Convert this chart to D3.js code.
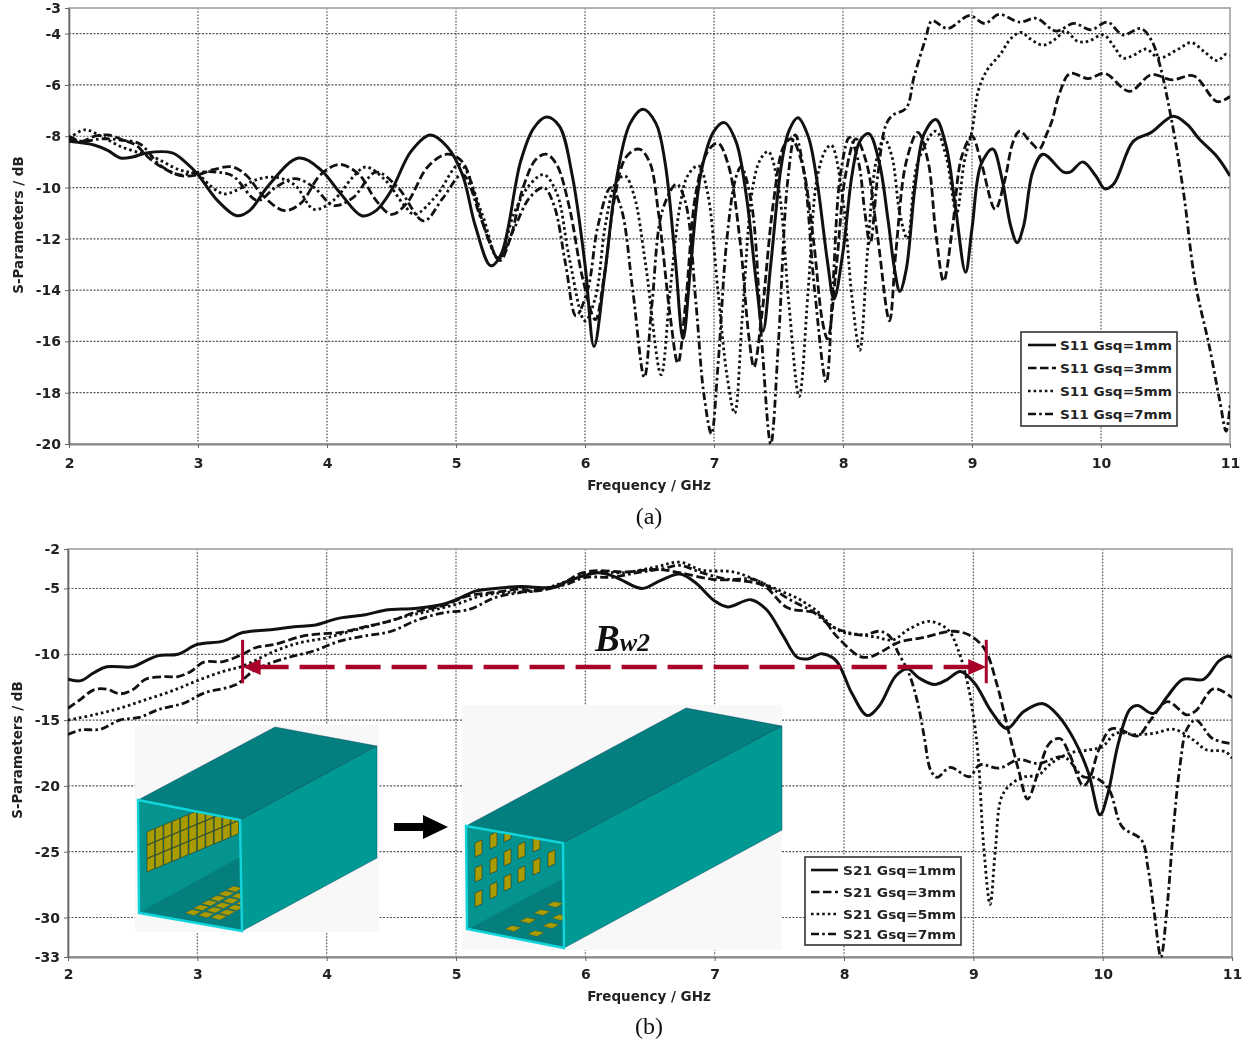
<!DOCTYPE html>
<html><head><meta charset="utf-8">
<script src="https://cdn.jsdelivr.net/npm/d3@7/dist/d3.min.js"></script>
<style>html,body{margin:0;padding:0;background:#fff}svg{display:block;filter:blur(0.35px)}
text{font-family:"DejaVu Sans",sans-serif;font-weight:bold;fill:#222}</style></head><body>
<div id="c"></div>
<script>
// --- values: [GHz, dB] ---
const s11_1mm=[[2,-8.2],[2.2,-8.35],[2.3,-8.55],[2.4,-8.85],[2.5,-8.8],[2.6,-8.65],[2.8,-8.65],[2.9,-9],[3,-9.5],[3.15,-10.5],[3.3,-11.1],[3.4,-10.9],[3.55,-9.9],[3.78,-8.85],[3.95,-9.3],[4.1,-10.2],[4.27,-11.1],[4.38,-10.9],[4.5,-10.1],[4.65,-8.6],[4.8,-7.95],[4.93,-8.4],[5.05,-9.5],[5.15,-11.5],[5.27,-13.05],[5.35,-12.6],[5.5,-9],[5.6,-7.7],[5.7,-7.25],[5.8,-7.6],[5.9,-9.5],[6,-13],[6.07,-16.2],[6.15,-13.5],[6.25,-9.5],[6.35,-7.5],[6.45,-6.95],[6.55,-7.5],[6.62,-9],[6.7,-12.8],[6.76,-15.9],[6.82,-13],[6.9,-9.4],[7,-7.8],[7.08,-7.47],[7.17,-8.2],[7.25,-10.3],[7.33,-13.8],[7.38,-15.6],[7.44,-13],[7.52,-9.2],[7.58,-7.8],[7.65,-7.28],[7.73,-8],[7.8,-9.8],[7.88,-12.9],[7.93,-14.35],[8,-12.5],[8.07,-9.5],[8.13,-8.2],[8.2,-7.9],[8.28,-9],[8.35,-11.3],[8.4,-13.2],[8.44,-14.05],[8.49,-13.2],[8.56,-9.9],[8.63,-7.9],[8.72,-7.35],[8.8,-8.4],[8.87,-10.7],[8.95,-13.3],[9,-11.6],[9.07,-9.1],[9.16,-8.5],[9.23,-9.6],[9.3,-11.5],[9.35,-12.15],[9.4,-11.5],[9.47,-9.4],[9.55,-8.7],[9.71,-9.4],[9.76,-9.4],[9.86,-9],[9.96,-9.55],[10.03,-10.05],[10.1,-9.85],[10.25,-8.2],[10.39,-7.85],[10.56,-7.22],[10.67,-7.55],[10.76,-8.1],[10.9,-8.8],[11,-9.55]];
const s11_3mm=[[2,-8.1],[2.1,-8.2],[2.2,-8],[2.3,-7.95],[2.42,-8.15],[2.52,-8.35],[2.62,-8.85],[2.75,-9.3],[2.88,-9.55],[3,-9.5],[3.12,-9.3],[3.27,-9.2],[3.38,-9.55],[3.5,-10.3],[3.67,-10.9],[3.8,-10.6],[3.95,-9.5],[4.1,-9.1],[4.25,-9.5],[4.38,-10.5],[4.5,-11.05],[4.62,-10.6],[4.78,-9.2],[4.93,-8.7],[5.05,-9],[5.15,-10.4],[5.25,-12],[5.34,-12.85],[5.42,-12],[5.52,-10],[5.62,-8.9],[5.7,-8.7],[5.78,-9.1],[5.88,-10.8],[5.98,-13.5],[6.08,-15.15],[6.15,-13.4],[6.23,-10.4],[6.32,-8.8],[6.42,-8.5],[6.5,-9],[6.57,-11],[6.66,-15],[6.72,-16.85],[6.78,-14.5],[6.86,-10.2],[6.95,-8.6],[7.03,-8.27],[7.11,-9.1],[7.2,-12],[7.27,-15.8],[7.31,-17],[7.37,-15],[7.46,-10.6],[7.54,-8.4],[7.6,-8.1],[7.68,-9],[7.77,-12],[7.84,-15.2],[7.88,-15.9],[7.95,-13],[8.02,-9.5],[8.1,-8.1],[8.18,-9],[8.27,-12],[8.36,-15.2],[8.41,-12.5],[8.49,-9],[8.58,-7.85],[8.66,-9],[8.72,-11.8],[8.78,-13.65],[8.85,-11.5],[8.92,-8.8],[9,-8],[9.07,-9],[9.18,-10.85],[9.25,-9.8],[9.32,-8.2],[9.37,-7.8],[9.45,-8.2],[9.52,-8.5],[9.58,-7.9],[9.62,-7.4],[9.68,-6.3],[9.76,-5.55],[9.9,-5.75],[10.03,-5.55],[10.22,-6.25],[10.39,-5.6],[10.55,-5.8],[10.72,-5.65],[10.9,-6.65],[11,-6.45]];
const s11_5mm=[[2,-8.1],[2.12,-7.75],[2.25,-8],[2.4,-8.4],[2.55,-8.65],[2.65,-8.8],[2.85,-9.3],[3,-9.5],[3.1,-9.95],[3.2,-10.25],[3.3,-10.1],[3.45,-9.7],[3.6,-9.6],[3.75,-9.9],[3.9,-10.85],[4.05,-10.5],[4.2,-9.6],[4.3,-9.2],[4.45,-9.7],[4.6,-10.7],[4.68,-11.05],[4.85,-10.3],[5.03,-9.1],[5.2,-11],[5.33,-12.8],[5.45,-11],[5.57,-9.9],[5.68,-9.5],[5.78,-10.2],[5.88,-12.8],[6,-15.2],[6.08,-14.3],[6.16,-11.4],[6.24,-9.8],[6.31,-9.55],[6.38,-10.3],[6.47,-13],[6.59,-17.3],[6.66,-14],[6.74,-10.6],[6.8,-9.5],[6.88,-9.15],[6.95,-10.2],[7.03,-14],[7.1,-17.3],[7.16,-18.8],[7.22,-15],[7.3,-10],[7.36,-8.9],[7.42,-8.6],[7.5,-10],[7.58,-14.5],[7.66,-18.15],[7.73,-14],[7.8,-9.6],[7.87,-8.5],[7.91,-8.35],[8,-10.5],[8.07,-14.3],[8.13,-16.35],[8.19,-12.5],[8.26,-8.9],[8.32,-8.1],[8.38,-8.8],[8.44,-11],[8.5,-12],[8.58,-9],[8.72,-7.8],[8.8,-8.8],[8.88,-11],[8.94,-9],[9,-7.8],[9.05,-6.2],[9.12,-5.4],[9.22,-4.8],[9.3,-4.2],[9.38,-3.95],[9.45,-4.2],[9.55,-4.45],[9.65,-4.2],[9.72,-3.9],[9.82,-4.3],[9.9,-4.3],[10.02,-4.05],[10.1,-4.5],[10.17,-4.95],[10.25,-4.85],[10.35,-4.6],[10.45,-4.95],[10.6,-4.6],[10.7,-4.35],[10.8,-4.7],[10.9,-5.05],[10.97,-4.8],[11,-4.85]];
const s11_7mm=[[2,-8],[2.1,-8.2],[2.25,-8.1],[2.4,-8.15],[2.55,-8.3],[2.7,-9.1],[2.85,-9.5],[3,-9.4],[3.15,-9.4],[3.27,-9.55],[3.46,-10.5],[3.6,-10],[3.75,-9.65],[3.9,-10],[4.05,-10.7],[4.2,-10.4],[4.38,-9.4],[4.55,-10],[4.75,-11.3],[4.9,-10.4],[5.05,-9.5],[5.2,-11.3],[5.33,-12.75],[5.45,-11.6],[5.57,-10.4],[5.68,-10],[5.76,-10.7],[5.85,-13],[5.93,-15],[6.02,-14],[6.1,-11.5],[6.2,-10],[6.28,-10.8],[6.37,-14],[6.46,-17.4],[6.52,-14.5],[6.6,-10.9],[6.71,-9.87],[6.78,-10.6],[6.86,-14.5],[6.92,-18],[6.98,-19.6],[7.03,-17],[7.1,-12],[7.17,-9.6],[7.21,-9.2],[7.29,-10.6],[7.37,-16],[7.44,-20],[7.5,-16],[7.57,-9.8],[7.63,-7.95],[7.7,-9.5],[7.78,-14],[7.87,-17.6],[7.92,-14],[7.98,-9.5],[8.05,-8.05],[8.12,-9],[8.17,-11],[8.21,-12.2],[8.27,-9.5],[8.33,-7.6],[8.38,-7.2],[8.49,-6.9],[8.55,-5.7],[8.64,-4.2],[8.69,-3.5],[8.81,-3.8],[8.98,-3.3],[9.1,-3.6],[9.21,-3.25],[9.37,-3.55],[9.5,-3.4],[9.65,-3.9],[9.79,-3.6],[9.92,-3.85],[10.05,-3.55],[10.17,-4.05],[10.31,-3.8],[10.39,-4.25],[10.45,-5.1],[10.55,-7.45],[10.64,-10.2],[10.73,-13.7],[10.84,-16.2],[10.92,-18.3],[10.97,-19.5],[11,-18.5]];
const s21_1mm=[[2,-11.9],[2.1,-12],[2.2,-11.4],[2.3,-10.95],[2.5,-10.95],[2.6,-10.5],[2.7,-10.1],[2.85,-10],[3,-9.25],[3.2,-9],[3.35,-8.35],[3.6,-8.1],[3.75,-7.9],[3.9,-7.8],[4.1,-7.25],[4.3,-7],[4.45,-6.65],[4.7,-6.5],[4.9,-6.2],[5,-5.85],[5.15,-5.2],[5.3,-5],[5.5,-4.85],[5.6,-4.9],[5.75,-4.9],[5.85,-4.5],[6,-4],[6.1,-3.8],[6.2,-4],[6.27,-4.3],[6.44,-5],[6.58,-4.4],[6.73,-3.9],[6.85,-4.55],[7,-5.95],[7.1,-6.4],[7.28,-5.85],[7.4,-6.6],[7.53,-8.6],[7.64,-10.25],[7.72,-10.35],[7.83,-9.95],[7.94,-10.5],[8.06,-12.95],[8.18,-14.65],[8.27,-13.95],[8.4,-11.65],[8.49,-11.1],[8.58,-11.8],[8.7,-12.3],[8.8,-11.9],[8.9,-11.3],[9.01,-12.2],[9.14,-14.35],[9.26,-15.65],[9.39,-14.35],[9.54,-13.75],[9.66,-14.7],[9.78,-16.5],[9.89,-19],[9.98,-22.2],[10.04,-20.6],[10.12,-16.8],[10.21,-14.2],[10.27,-13.9],[10.39,-14.5],[10.5,-13.2],[10.62,-11.9],[10.78,-11.9],[10.9,-10.5],[10.97,-10.15],[11,-10.25]];
const s21_3mm=[[2,-14.1],[2.1,-13.4],[2.2,-12.7],[2.3,-12.65],[2.4,-13],[2.5,-12.7],[2.6,-11.9],[2.75,-11.7],[2.85,-11.7],[2.95,-11.3],[3.05,-10.6],[3.2,-10.55],[3.35,-10],[3.45,-9.5],[3.6,-9.25],[3.8,-8.65],[3.95,-8.45],[4.1,-8.35],[4.3,-7.9],[4.5,-7.45],[4.7,-6.75],[4.9,-6.3],[5.1,-5.55],[5.3,-5.3],[5.5,-5.05],[5.6,-5.2],[5.8,-4.8],[5.95,-3.9],[6.1,-3.65],[6.3,-3.75],[6.57,-3.55],[6.73,-3.8],[6.98,-4.3],[7.19,-4.4],[7.38,-4.8],[7.56,-6.45],[7.8,-6.95],[7.94,-8.6],[8.12,-10.15],[8.2,-10.2],[8.3,-9.75],[8.42,-9.1],[8.6,-8.75],[8.85,-8.25],[8.98,-8.6],[9.09,-9.65],[9.18,-12.2],[9.27,-15.75],[9.35,-18.8],[9.42,-21],[9.5,-19],[9.59,-16.75],[9.67,-16.4],[9.74,-17.5],[9.85,-20],[9.9,-19.4],[9.97,-17.25],[10.06,-15.7],[10.13,-15.7],[10.27,-16.2],[10.37,-15],[10.5,-13.6],[10.65,-14.6],[10.72,-14.3],[10.86,-12.6],[11,-13.3]];
const s21_5mm=[[2,-15],[2.2,-14.6],[2.4,-14.1],[2.6,-13.45],[2.8,-12.8],[3,-12],[3.2,-11.3],[3.35,-10.9],[3.6,-9.75],[3.8,-9.1],[4,-8.75],[4.2,-8.2],[4.4,-7.7],[4.6,-7.15],[4.8,-6.7],[5,-6.2],[5.2,-5.55],[5.4,-5.3],[5.6,-5.2],[5.8,-4.65],[5.95,-4.05],[6.1,-3.75],[6.3,-3.8],[6.55,-3.35],[6.73,-3],[6.9,-3.6],[7.15,-3.75],[7.35,-4.5],[7.5,-5.15],[7.65,-5.8],[7.8,-6.8],[7.9,-7.8],[8,-8.35],[8.12,-8.5],[8.25,-8.7],[8.38,-8.9],[8.5,-8.1],[8.66,-7.5],[8.8,-8.1],[8.88,-9.6],[8.96,-12.4],[9.03,-17],[9.08,-24.6],[9.13,-29],[9.17,-24.9],[9.22,-20.8],[9.3,-19.8],[9.4,-19.3],[9.5,-19.2],[9.6,-18.3],[9.75,-17.5],[9.9,-17.25],[10,-17],[10.1,-16],[10.25,-16.1],[10.4,-16],[10.55,-15.7],[10.7,-16.5],[10.8,-17.25],[10.95,-17.4],[11,-17.9]];
const s21_7mm=[[2,-16.1],[2.1,-15.75],[2.25,-15.7],[2.4,-15],[2.55,-14.8],[2.7,-14.2],[2.9,-13.7],[3.05,-12.95],[3.3,-12.3],[3.45,-11.15],[3.7,-10.25],[3.9,-9.75],[4.1,-9],[4.3,-8.6],[4.5,-8.25],[4.7,-7.4],[4.9,-6.85],[5.1,-6.6],[5.3,-5.7],[5.5,-5.3],[5.7,-5],[5.85,-4.7],[6,-4.15],[6.2,-4.15],[6.4,-3.8],[6.6,-3.5],[6.73,-3.25],[6.9,-3.8],[7.1,-4.3],[7.3,-4.3],[7.45,-5.05],[7.6,-5.95],[7.75,-6.7],[7.9,-7.85],[8,-8.25],[8.15,-8.55],[8.27,-8.25],[8.35,-8.6],[8.42,-9.9],[8.5,-11.4],[8.57,-13.7],[8.62,-16.25],[8.67,-18.8],[8.72,-19.35],[8.82,-18.6],[8.97,-19.3],[9.05,-18.4],[9.2,-18.65],[9.35,-18],[9.5,-18.3],[9.7,-17.8],[9.85,-19.3],[9.95,-19.4],[10.05,-20.3],[10.15,-23.1],[10.3,-24.1],[10.35,-26.2],[10.4,-29.7],[10.45,-33],[10.5,-29],[10.55,-22.9],[10.6,-18.3],[10.65,-15.7],[10.72,-15],[10.85,-16.4],[11,-16.8]];

const xTicks=[2,3,4,5,6,7,8,9,10,11];
const yTicksA=[-3,-4,-6,-8,-10,-12,-14,-16,-18,-20];
const yTicksB=[-2,-5,-10,-15,-20,-25,-30,-33];
const gsqLabels=["Gsq=1mm","Gsq=3mm","Gsq=5mm","Gsq=7mm"];
const dashes=[null,"8.5 3.5","2.6 3","8 3.2 2.6 3.2"];
const bwStart=3.35, bwEnd=9.1, bwLevel=-10.97, bwCapTop=-8.9, bwCapBottom=-12.2;

const svg=d3.select("#c").append("svg").attr("width",1245).attr("height",1042);
const defs=svg.append("defs");

function panel(id,series,yTicks,xr,yr,yDom,cfg){
  const x=d3.scaleLinear().domain([2,11]).range(xr);
  const y=d3.scaleLinear().domain(yDom).range(yr);
  const g=svg.append("g");
  defs.append("clipPath").attr("id",id).append("rect").attr("x",xr[0]).attr("y",yr[0]-1).attr("width",xr[1]-xr[0]).attr("height",yr[1]-yr[0]+2);
  g.append("g").selectAll("line").data(xTicks.slice(1,-1)).join("line")
    .attr("x1",x).attr("x2",x).attr("y1",yr[0]).attr("y2",yr[1]).attr("stroke","#555").attr("stroke-width",1.2).attr("stroke-dasharray","1.6 1.6");
  g.append("g").selectAll("line").data(yTicks.slice(1,-1)).join("line")
    .attr("y1",y).attr("y2",y).attr("x1",xr[0]).attr("x2",xr[1]).attr("stroke","#555").attr("stroke-width",1.2).attr("stroke-dasharray","2 1.5");
  g.append("rect").attr("x",xr[0]).attr("y",yr[0]).attr("width",xr[1]-xr[0]).attr("height",yr[1]-yr[0]).attr("fill","none").attr("stroke","#aaa").attr("stroke-width",1.8);
  const ax=g.append("g").attr("transform",`translate(0,${yr[1]})`).call(d3.axisBottom(x).tickValues(xTicks).tickSize(4).tickSizeOuter(0).tickPadding(cfg.xPad));
  const ay=g.append("g").attr("transform",`translate(${xr[0]},0)`).call(d3.axisLeft(y).tickValues(yTicks).tickFormat(d=>String(d)).tickSize(4).tickSizeOuter(0).tickPadding(4));
  ax.select(".domain").attr("stroke","#888").attr("stroke-width",2);
  ay.select(".domain").attr("stroke","#666").attr("stroke-width",1.6);
  [ax,ay].forEach(a=>{a.selectAll("line").attr("stroke","#666");
    a.selectAll("text").attr("font-size",14).attr("fill","#222").attr("font-family","DejaVu Sans").attr("font-weight","bold");});
  g.append("text").attr("x",cfg.xTitleX).attr("y",yr[1]+cfg.xTitleDy).attr("text-anchor","middle").attr("font-size",13.5).text("Frequency / GHz");
  g.append("text").attr("transform",`translate(${cfg.yTitleX},${cfg.yTitleY}) rotate(-90)`).attr("text-anchor","middle").attr("font-size",13.5).text("S-Parameters / dB");
  return {x,y,g,xr,yr,
    lines(){
      const line=d3.line().x(d=>x(d[0])).y(d=>y(d[1])).curve(d3.curveCatmullRom.alpha(0.5));
      g.append("g").attr("clip-path",`url(#${id})`).selectAll("path").data(series.slice().reverse()).join("path")
       .attr("d",d=>line(d.v)).attr("fill","none").attr("stroke","#111").attr("stroke-width",d=>d.w)
       .attr("stroke-dasharray",d=>d.dash).attr("stroke-linejoin","round");
    }};
}

function legend(box,prefix,rows,lineX,textX){
  const g=svg.append("g");
  g.append("rect").attr("x",box[0]).attr("y",box[1]).attr("width",box[2]).attr("height",box[3]).attr("fill","#fff").attr("stroke","#333").attr("stroke-width",1.6);
  gsqLabels.forEach((t,i)=>{
    g.append("line").attr("x1",lineX[0]).attr("x2",lineX[1]).attr("y1",rows[i]).attr("y2",rows[i]).attr("stroke","#111").attr("stroke-width",2.6).attr("stroke-dasharray",dashes[i]);
    g.append("text").attr("x",textX).attr("y",rows[i]+5).attr("font-size",13).attr("textLength",textX<900?113:112).attr("lengthAdjust","spacingAndGlyphs").text(prefix+" "+t);
  });
}

const mk=(a)=>a.map((v,i)=>({v,dash:dashes[i],w:i==0?3:2.8}));
const A=panel("clipA",mk([s11_1mm,s11_3mm,s11_5mm,s11_7mm]),yTicksA,[69,1230],[8,444],[-3,-20],{xPad:10,xTitleX:649,xTitleDy:46,yTitleX:23,yTitleY:225});
A.lines();
legend([1021,332,156,94],"S11",[345,368,391,414],[1028,1056],1060);

const B=panel("clipB",mk([s21_1mm,s21_3mm,s21_5mm,s21_7mm]),yTicksB,[68,1232],[549,957],[-2,-33],{xPad:8,xTitleX:649,xTitleDy:44,yTitleX:22,yTitleY:750});
B.lines();

// ---- illustration insets (structure drawings, not data) ----
function poly(g,pts,fill,stroke,sw){return g.append("polygon").attr("points",pts.map(p=>p.join(",")).join(" ")).attr("fill",fill).attr("stroke",stroke||"none").attr("stroke-width",sw||0);}
const TOP="#047f7f",SIDE="#009a94",FRONT="#05938f",FLOOR="#057f7e",CY="#12d5dc",GOLD="#a89c00";
function box(o){
  const g=svg.append("g");
  g.append("rect").attr("x",o.bg[0]).attr("y",o.bg[1]).attr("width",o.bg[2]).attr("height",o.bg[3]).attr("fill","#f8f8f8");
  poly(g,[o.a,o.t1,o.t2,o.b],TOP,"#035",0.4);
  poly(g,[o.b,o.t2,o.r,o.c],SIDE,"#035",0.4);
  poly(g,[o.a,o.b,o.c,o.d],FRONT);
  defs.append("clipPath").attr("id",o.id).append("polygon").attr("points",[o.a,o.b,o.c,o.d].map(p=>p.join(",")).join(" "));
  const inner=g.append("g").attr("clip-path",`url(#${o.id})`);
  poly(inner,[o.f1,o.f2,o.c],FLOOR);
  o.wall.forEach(p=>{const[x,y]=p;const w=o.pw,h=o.ph;
    poly(inner,[[x,y],[x+w,y-w*0.45],[x+w,y-w*0.45+h],[x,y+h]],GOLD,"#222",0.5);});
  o.floor.forEach(p=>{const[x,y]=p;
    poly(inner,[[x-8,y],[x-1,y-3.5],[x+8,y-1.5],[x+1,y+2.5]],GOLD,"#333",0.3);});
  poly(g,[o.a,o.b,o.c,o.d],"none",CY,2.4);
}
const wall1=[];for(let j=0;j<3;j++)for(let i=0;i<11;i++)wall1.push([147+8.4*i,832-3.5*i+13.5*j]);
const floor1=[];for(let j=0;j<3;j++)for(let i=0;i<6;i++)floor1.push([193+8.3*i+13*j,913-4.7*i+2.3*j]);
box({id:"ins1",bg:[135,725,244,207],a:[138,800],t1:[275,727],t2:[377,746],b:[240,820],r:[377,858],c:[242,931],d:[139,913],
  f1:[142,911],f2:[240,857],wall:wall1,pw:7.6,ph:13,floor:floor1});
const wall2=[[475,843],[490,835],[504,828],[475,868],[490,860],[504,852],[518,845],[533,838],[475,893],[490,885],[504,877],[518,869],[533,861],[548,853]];
const floor2=[[513,929],[536,934],[528,921],[551,926],[542,913],[560,918],[555,905]];
box({id:"ins2",bg:[462,705,320,245],a:[466,826],t1:[686,708],t2:[782,726],b:[563,843],r:[782,830],c:[564,948],d:[467,929],
  f1:[470,928],f2:[562,879],wall:wall2,pw:7,ph:14,floor:floor2});
poly(svg,[[394,823],[423,823],[423,815],[448,827],[423,839],[423,831],[394,831]],"#000");

legend([805,857,156,88],"S21",[870,892,914,934],[811,838],843);

// ---- bandwidth annotation ----
const red="#a80028";
const ann=svg.append("g");
const yL=B.y(bwLevel), xS=B.x(bwStart), xE=B.x(bwEnd);
ann.append("line").attr("x1",xS+16).attr("x2",xE-16).attr("y1",yL).attr("y2",yL).attr("stroke",red).attr("stroke-width",4.6).attr("stroke-dasharray","35 11").attr("stroke-dashoffset",5);
poly(ann,[[xS,yL],[xS+18,yL-8],[xS+18,yL+8]],red);
poly(ann,[[xE,yL],[xE-18,yL-8],[xE-18,yL+8]],red);
[xS,xE].forEach(X=>ann.append("line").attr("x1",X).attr("x2",X).attr("y1",B.y(bwCapTop)).attr("y2",B.y(bwCapBottom)).attr("stroke",red).attr("stroke-width",3));
const bw=svg.append("text").attr("x",595).attr("y",651).style("font-family","'Liberation Serif',serif").style("font-style","italic").style("font-weight","bold").style("fill","#111");
bw.append("tspan").attr("font-size",37).text("B");
bw.append("tspan").attr("font-size",26).text("w2");

// ---- sub-captions ----
[["(a)",649,524],["(b)",649,1034]].forEach(d=>svg.append("text").attr("x",d[1]).attr("y",d[2]).attr("text-anchor","middle").attr("font-size",24).style("font-family","'Liberation Serif',serif").style("font-weight","normal").style("fill","#111").text(d[0]));
</script></body></html>
